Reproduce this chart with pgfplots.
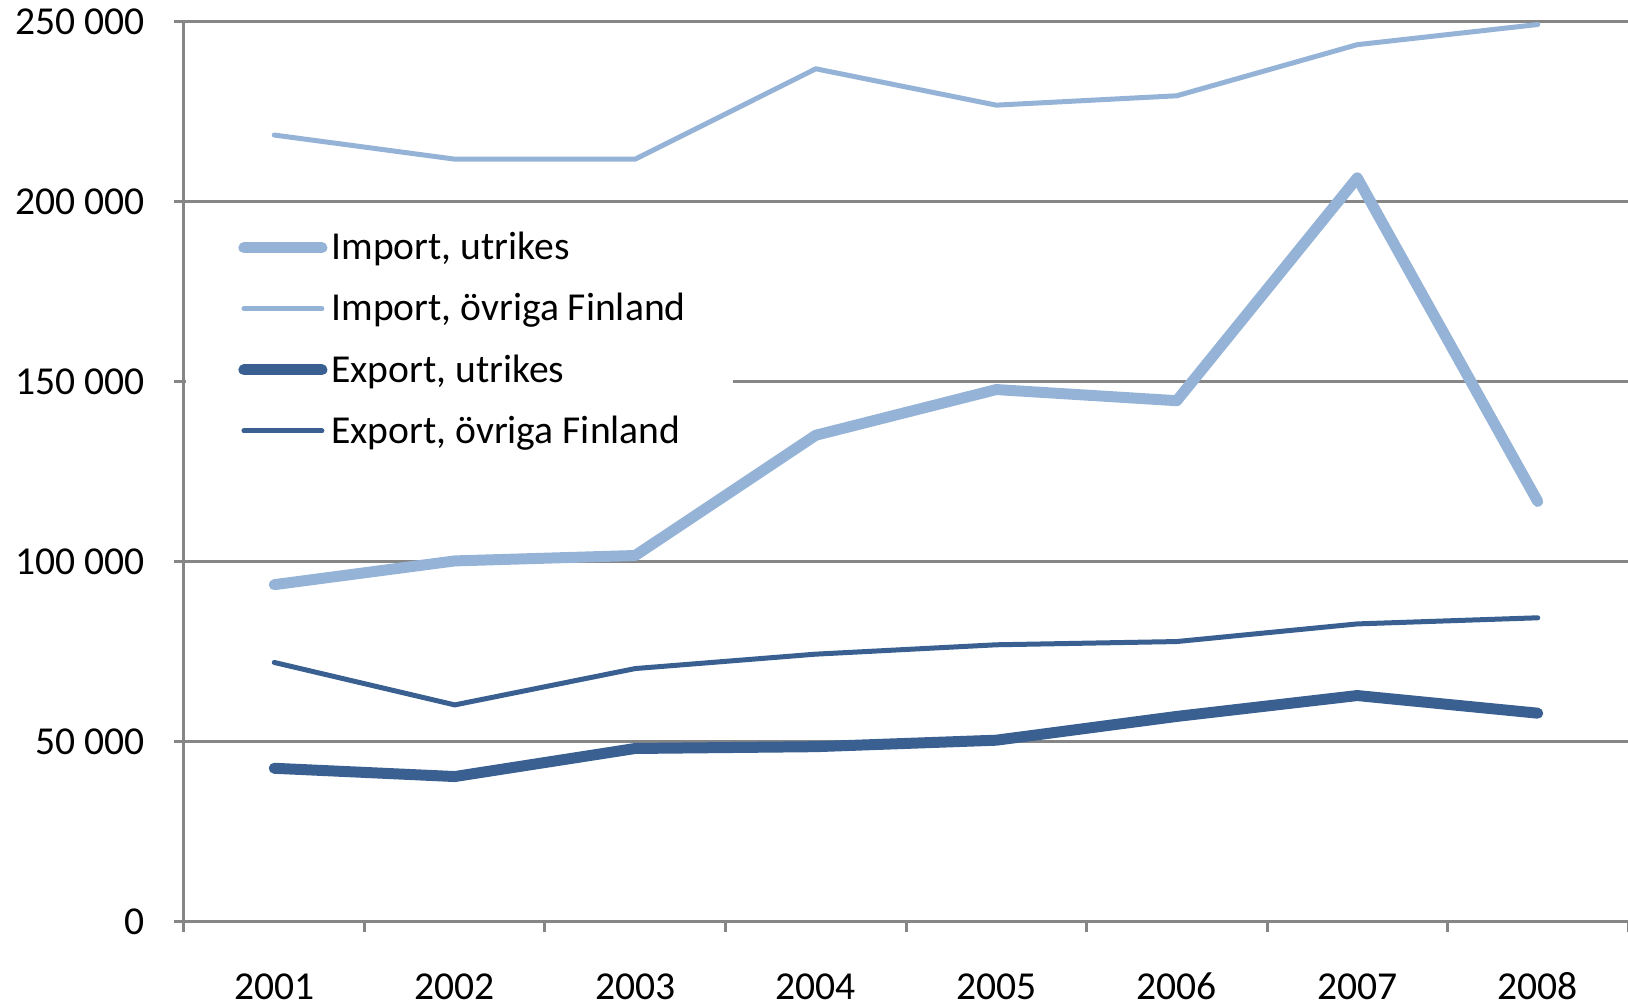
\documentclass[border=0pt]{standalone}
\usepackage{pgfplots}
\pgfplotsset{compat=1.18}
\usepackage{fontspec}
\setmainfont{Carlito}
\definecolor{lightb}{HTML}{95B3D7}
\definecolor{darkb}{HTML}{3A6091}
\definecolor{gridg}{HTML}{868686}
\begin{document}
\begin{tikzpicture}
\useasboundingbox (-92pt,-41.5pt) rectangle (722pt,461pt);
\begin{axis}[
  scale only axis,
  width=722pt, height=450pt,
  xmin=-0.5, xmax=7.5,
  ymin=0, ymax=250000,
  axis lines*=left,
  axis line style={gridg, line width=1.5pt, -},
  xtick={0,...,7},
  xticklabels={2001,2002,2003,2004,2005,2006,2007,2008},
  minor xtick={-0.5,0.5,...,7.5},
  major x tick style={draw=none},
  minor x tick style={gridg, line width=1.5pt},
  minor tick length=5pt,
  ytick={0,50000,100000,150000,200000,250000},
  yticklabels={0,50 000,100 000,150 000,200 000,250 000},
  scaled y ticks=false,
  major y tick style={gridg, line width=1.5pt},
  major tick length=5pt,
  tick align=outside,
  ymajorgrids,
  major grid style={gridg, line width=1.5pt},
  tick label style={font=\fontsize{19.8}{24}\selectfont, black},
  xticklabel style={inner ysep=0pt, text height=14pt, text depth=0pt, yshift=-19.5pt},
  yticklabel style={xshift=-11pt},
  clip=false,
  legend cell align=left,
  legend style={at={(rel axis cs:0.0014,0.78)}, anchor=north west,
    fill=white, draw=none, inner xsep=21.5pt, inner ysep=4pt,
    font=\fontsize{19.8}{24}\selectfont, row sep=11.3pt},
  legend image code/.code={\path (-4.5pt,0pt); \draw[#1, line cap=round] (0pt,0pt) -- (39pt,0pt);},
]
\addplot[lightb, line width=5.5pt, line join=round, line cap=round] coordinates {
 (0,93700) (1,100300) (2,101800) (3,135200) (4,147900) (5,144800) (6,206700) (7,116800)};
\addlegendentry{Import, utrikes}
\addplot[lightb, line width=2.5pt, line join=round, line cap=round] coordinates {
 (0,218600) (1,211900) (2,211900) (3,237000) (4,226900) (5,229500) (6,243700) (7,249300)};
\addlegendentry{Import, övriga Finland}
\addplot[darkb, line width=5.5pt, line join=round, line cap=round] coordinates {
 (0,42700) (1,40400) (2,48200) (3,48700) (4,50500) (5,57100) (6,62900) (7,58000)};
\addlegendentry{Export, utrikes}
\addplot[darkb, line width=2.5pt, line join=round, line cap=round] coordinates {
 (0,72100) (1,60300) (2,70400) (3,74400) (4,77000) (5,77900) (6,82800) (7,84500)};
\addlegendentry{Export, övriga Finland}
\end{axis}
\end{tikzpicture}
\end{document}
